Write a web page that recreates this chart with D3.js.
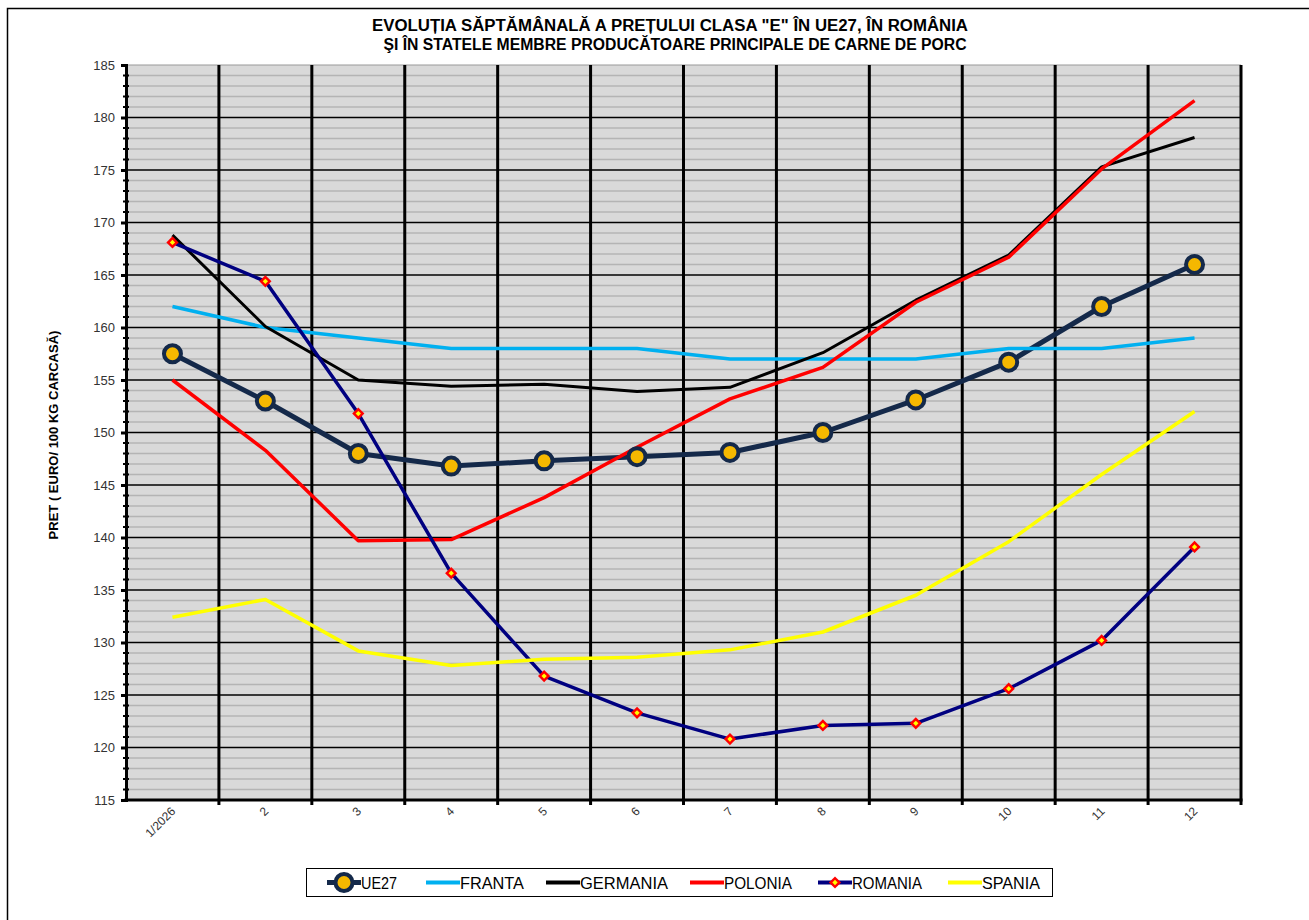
<!DOCTYPE html>
<html lang="ro">
<head>
<meta charset="UTF-8">
<script src="https://cdn.jsdelivr.net/npm/d3@7"></script>
<style>
  body { margin: 0; background: #fff; }
  text { font-family: "Liberation Sans", Arial, sans-serif; }
  .narrow { font-family: "Liberation Sans Narrow", "Arial Narrow", "Liberation Sans", sans-serif; }
</style>
</head>
<body>
<script>
// saptamanile 1..12 / 2026
var weeks = ["1/2026", "2", "3", "4", "5", "6", "7", "8", "9", "10", "11", "12"];
var yTicks = [115, 120, 125, 130, 135, 140, 145, 150, 155, 160, 165, 170, 175, 180, 185];

var ue27     = [157.5, 153.0, 148.0, 146.8, 147.3, 147.7, 148.1, 150.0, 153.1, 156.7, 162.0, 166.0];
var franta   = [162.0, 160.0, 159.0, 158.0, 158.0, 158.0, 157.0, 157.0, 157.0, 158.0, 158.0, 159.0];
var germania = [168.8, 160.1, 155.0, 154.4, 154.6, 153.9, 154.3, 157.6, 162.6, 166.9, 175.3, 178.1];
var polonia  = [155.0, 148.3, 139.7, 139.8, 143.8, 148.6, 153.2, 156.2, 162.4, 166.7, 175.1, 181.6];
var romania  = [168.1, 164.4, 151.8, 136.6, 126.8, 123.3, 120.8, 122.1, 122.3, 125.6, 130.2, 139.1];
var spania   = [132.4, 134.1, 129.2, 127.8, 128.4, 128.6, 129.3, 131.0, 134.5, 139.6, 146.0, 152.0];

var series = [
  {name: "UE27", values: ue27, color: "#14294a", width: 5, marker: "circle"},
  {name: "FRANTA", values: franta, color: "#00b0f0", width: 3.5},
  {name: "GERMANIA", values: germania, color: "#000000", width: 3},
  {name: "POLONIA", values: polonia, color: "#ff0000", width: 3.5},
  {name: "ROMANIA", values: romania, color: "#000080", width: 3.5, marker: "diamond"},
  {name: "SPANIA", values: spania, color: "#ffff00", width: 3.5}
];

var W = 1309, H = 920;
var pLeft = 126, pRight = 1241, pTop = 65, pBottom = 800;

var svg = d3.select("body").append("svg").attr("width", W).attr("height", H);

// chenar exterior
svg.append("rect").attr("x", 7.5).attr("y", 8.5).attr("width", W + 10).attr("height", H + 10)
  .attr("fill", "none").attr("stroke", "#000").attr("stroke-width", 1.5);

var x = d3.scaleBand().domain(weeks).range([pLeft, pRight]);
var y = d3.scaleLinear().domain([115, 185]).range([pBottom, pTop]);

// fundal
svg.append("rect").attr("x", pLeft).attr("y", pTop).attr("width", pRight - pLeft).attr("height", pBottom - pTop)
  .attr("fill", "#d9d9d9");

// grila
svg.append("g").selectAll("line").data(d3.range(116, 185))
  .join("line")
  .attr("x1", pLeft).attr("x2", pRight)
  .attr("y1", function(d) { return y(d); }).attr("y2", function(d) { return y(d); })
  .attr("stroke", d => d % 5 === 0 ? "#000" : "#b4b4b4")
  .attr("stroke-width", d => d % 5 === 0 ? 1.3 : 1.5);
svg.append("line").attr("x1", pLeft).attr("x2", pRight).attr("y1", pTop).attr("y2", pTop)
  .attr("stroke", "#999").attr("stroke-width", 1);

// linii verticale intre saptamani
svg.append("g").selectAll("line").data(weeks.slice(1).concat(["end"]))
  .join("line")
  .attr("x1", function(d) { return d === "end" ? pRight : x(d); })
  .attr("x2", function(d) { return d === "end" ? pRight : x(d); })
  .attr("y1", pTop).attr("y2", pBottom + 5)
  .attr("stroke", "#000").attr("stroke-width", 3);

// axa Y
var yAxis = svg.append("g").attr("transform", "translate(" + pLeft + ",0)")
  .call(d3.axisLeft(y).tickValues(yTicks).tickSize(5).tickPadding(6));
yAxis.select(".domain").attr("stroke-width", 3);
yAxis.selectAll(".tick line").attr("stroke-width", 3);
yAxis.selectAll("text").attr("font-size", 13).attr("fill", "#333");
// tick-uri minore
svg.append("g").selectAll("line").data(d3.range(116, 185).filter(d => d % 5))
  .join("line")
  .attr("x1", pLeft - 3).attr("x2", pLeft + 3)
  .attr("y1", d => y(d)).attr("y2", d => y(d))
  .attr("stroke", "#000").attr("stroke-width", 2);

// axa X
var xAxis = svg.append("g").attr("transform", "translate(0," + pBottom + ")")
  .call(d3.axisBottom(x).tickSize(0).tickPadding(12));
xAxis.select(".domain").remove();
xAxis.selectAll("text")
  .attr("font-size", 12).attr("fill", "#333")
  .attr("text-anchor", "end")
  .attr("dy", "0.35em")
  .attr("transform", "translate(-2,12) rotate(-45)")
  .attr("y", 0).attr("x", 4);
svg.append("line").attr("x1", pLeft - 1.5).attr("x2", pRight + 1.5).attr("y1", pBottom).attr("y2", pBottom)
  .attr("stroke", "#000").attr("stroke-width", 3);

// titlu
var title = svg.append("text").attr("class", "narrow")
  .attr("text-anchor", "middle").attr("font-size", 16).attr("font-weight", "bold");
title.append("tspan").attr("x", 670).attr("y", 31).attr("textLength", 596).attr("lengthAdjust", "spacingAndGlyphs")
  .text("EVOLUȚIA SĂPTĂMÂNALĂ  A PREȚULUI CLASA \"E\"  ÎN  UE27, ÎN ROMÂNIA");
title.append("tspan").attr("x", 675).attr("y", 50).attr("textLength", 583).attr("lengthAdjust", "spacingAndGlyphs")
  .text("ŞI ÎN STATELE MEMBRE PRODUCĂTOARE  PRINCIPALE DE CARNE DE PORC");

// titlu axa Y
svg.append("text").attr("transform", "translate(58," + 435 + ") rotate(-90)")
  .attr("text-anchor", "middle").attr("font-size", 13).attr("font-weight", "bold")
  .text("PRET ( EURO/ 100 KG CARCASĂ)");

// serii
var line = d3.line()
  .x(function(d, i) { return x(weeks[i]) + x.bandwidth() / 2; })
  .y(function(d) { return y(d); });

series.forEach(function(s) {
  svg.append("path").datum(s.values)
    .attr("d", line).attr("fill", "none")
    .attr("stroke", s.color).attr("stroke-width", s.width)
    .attr("stroke-linejoin", "round");
});

function drawMarker(g, type, cx, cy) {
  if (type === "circle") {
    g.append("circle").attr("cx", cx).attr("cy", cy).attr("r", 8.5)
      .attr("fill", "#f5b800").attr("stroke", "#14294a").attr("stroke-width", 4);
  } else if (type === "diamond") {
    g.append("path").attr("d", d3.symbol(d3.symbolDiamond2, 95)())
      .attr("transform", "translate(" + cx + "," + cy + ")").attr("fill", "#ff0000");
    g.append("path").attr("d", d3.symbol(d3.symbolDiamond2, 18)())
      .attr("transform", "translate(" + cx + "," + cy + ")").attr("fill", "#ffff00");
  }
}

var markers = svg.append("g");
series.forEach(function(s) {
  if (!s.marker) return;
  s.values.forEach(function(v, i) {
    drawMarker(markers, s.marker, x(weeks[i]) + x.bandwidth() / 2, y(v));
  });
});

// legenda
var legend = svg.append("g");
var lx = 306, ly = 868, lh = 28, lw = 746;
var itemX = [327, 426, 546, 690, 818, 948];
var textW = [36, 64, 88, 68, 70, 58];
legend.append("rect").attr("x", lx + 0.5).attr("y", ly + 0.5).attr("width", lw).attr("height", lh)
  .attr("fill", "#fff").attr("stroke", "#000").attr("stroke-width", 1);
series.forEach(function(s, i) {
  var cx0 = itemX[i], cy = ly + lh / 2 + 0.5;
  legend.append("line").attr("x1", cx0).attr("x2", cx0 + 34).attr("y1", cy).attr("y2", cy)
    .attr("stroke", s.color).attr("stroke-width", s.marker === "circle" ? 5 : 4);
  if (s.marker) drawMarker(legend, s.marker, cx0 + 17, cy);
  legend.append("text").attr("class", "narrow").attr("x", cx0 + 34).attr("y", cy + 6)
    .attr("font-size", 17).attr("textLength", textW[i]).attr("lengthAdjust", "spacingAndGlyphs")
    .text(s.name);
});
</script>
</body>
</html>
